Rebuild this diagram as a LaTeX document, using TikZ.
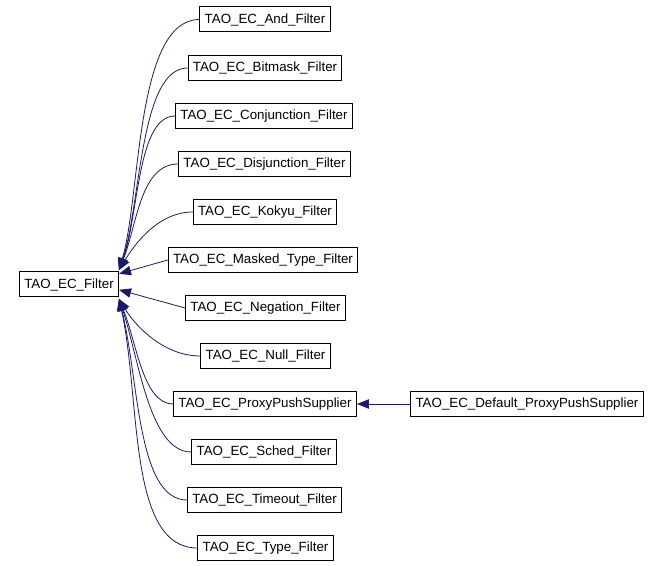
\documentclass[tikz,border=0pt]{standalone}
\usepackage{fontspec}
\setmainfont{Liberation Sans}
\usetikzlibrary{arrows.meta}
\definecolor{edgeblue}{HTML}{191970}
\tikzset{
	cls/.style={draw=black, line width=0.75pt, fill=white, inner xsep=3.6pt, inner ysep=0pt,
			minimum height=18.75pt, font=\fontsize{10}{12}\selectfont},
	inherit/.style={draw=edgeblue, line width=0.6pt,
			-{Triangle[length=9pt,width=7pt]}, edgeblue}
}

\begin{document}
\begin{tikzpicture}[x=0.75pt, y=-0.75pt]
		\useasboundingbox (0, 0) rectangle (662, 566);

		\node[cls] (filter)   at (69, 284.5)  {TAO\_EC\_Filter};

		\node[cls] (andf)     at (265, 19.5)  {TAO\_EC\_And\_Filter};
		\node[cls] (bitmask)  at (265, 68)    {TAO\_EC\_Bitmask\_Filter};
		\node[cls] (conj)     at (264, 116)   {TAO\_EC\_Conjunction\_Filter};
		\node[cls] (disj)     at (264.5, 164) {TAO\_EC\_Disjunction\_Filter};
		\node[cls] (kokyu)    at (265, 212)   {TAO\_EC\_Kokyu\_Filter};
		\node[cls] (masked)   at (263, 260)   {TAO\_EC\_Masked\_Type\_Filter};
		\node[cls] (negation) at (265.5, 308) {TAO\_EC\_Negation\_Filter};
		\node[cls] (nullf)    at (265.5, 356) {TAO\_EC\_Null\_Filter};
		\node[cls] (proxy)    at (265, 404)   {TAO\_EC\_ProxyPushSupplier};
		\node[cls] (sched)    at (264, 452)   {TAO\_EC\_Sched\_Filter};
		\node[cls] (timeout)  at (264.5, 500) {TAO\_EC\_Timeout\_Filter};
		\node[cls] (typef)    at (265.5, 548) {TAO\_EC\_Type\_Filter};

		\node[cls] (defproxy) at (527, 404)   {TAO\_EC\_Default\_ProxyPushSupplier};

		\coordinate (up)   at ([yshift=1pt]filter.north east);
		\coordinate (down) at ([yshift=-1pt]filter.south east);

		\draw[inherit] (andf.west)    .. controls +(-64, 0) and +(22, -75) .. (up);
		\draw[inherit] (bitmask.west) .. controls +(-48, 0) and +(22, -65) .. (up);
		\draw[inherit] (conj.west)    .. controls +(-38, 0) and +(20, -55) .. (up);
		\draw[inherit] (disj.west)    .. controls +(-38, 0) and +(18, -45) .. (up);
		\draw[inherit] (kokyu.west)   .. controls +(-35, 0) and +(15, -25) .. (up);

		\draw[inherit] (masked.west)   -- ([yshift=8pt]filter.east);
		\draw[inherit] (negation.west) -- ([yshift=-4pt]filter.east);

		\draw[inherit] (nullf.west)   .. controls +(-38, 0) and +(15, 25) .. (down);
		\draw[inherit] (proxy.west)   .. controls +(-30, 0) and +(18, 45) .. (down);
		\draw[inherit] (sched.west)   .. controls +(-42, 0) and +(20, 60) .. (down);
		\draw[inherit] (timeout.west) .. controls +(-50, 0) and +(20, 80) .. (down);
		\draw[inherit] (typef.west)   .. controls +(-70, 0) and +(22, 100) .. (down);

		\draw[inherit] (defproxy.west) -- (proxy.east);
	\end{tikzpicture}
\end{document}
